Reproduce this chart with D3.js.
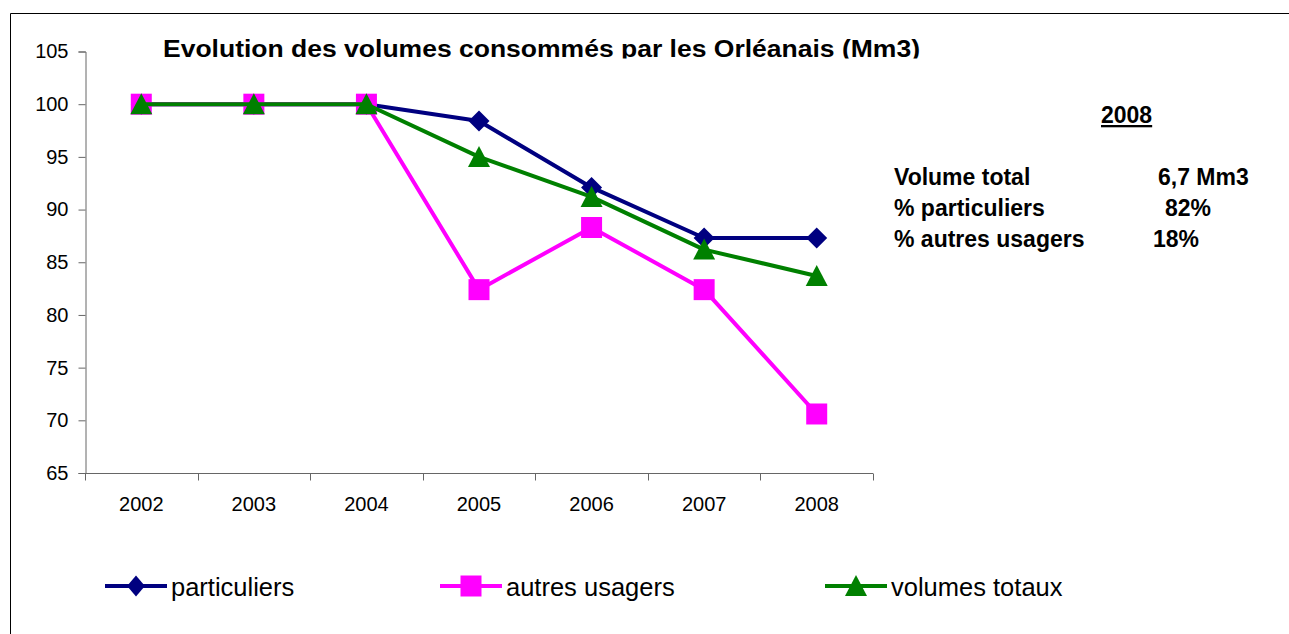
<!DOCTYPE html>
<html>
<head>
<meta charset="utf-8">
<script src="https://cdn.jsdelivr.net/npm/d3@7"></script>
<style>
  body { margin: 0; background: #fff; }
  svg { display: block; font-family: Arial, "Liberation Sans", sans-serif; }
</style>
</head>
<body>
<div id="chart"></div>
<script>
// donnees
const annees = ["2002", "2003", "2004", "2005", "2006", "2007", "2008"];
const particuliers = [100, 100, 100, 98.4, 92.1, 87.3, 87.3];
const autresUsagers = [100, 100, 100, 82.4, 88.3, 82.4, 70.6];
const volumesTotaux = [100, 100, 100, 95.0, 91.2, 86.2, 83.7];
const yTicks = [65, 70, 75, 80, 85, 90, 95, 100, 105];
const titre = "Evolution des volumes consommés par les Orléanais (Mm3)";
const encadreTitre = "2008";
const encadreLignes = [
  ["Volume total", "6,7 Mm3"],
  ["% particuliers", "82%"],
  ["% autres usagers", "18%"]
];

const width = 1289, height = 634;
const margin = {top: 51.5, bottom: 161, left: 85, right: 416};

// formes des marqueurs (losange, carre, triangle)
const losange = {draw(ctx, s) { ctx.moveTo(0, -s); ctx.lineTo(s, 0); ctx.lineTo(0, s); ctx.lineTo(-s, 0); ctx.closePath(); }};
const losangeLeg = {draw(ctx, s) { ctx.moveTo(0, -s); ctx.lineTo(s * 0.85, 0); ctx.lineTo(0, s); ctx.lineTo(-s * 0.85, 0); ctx.closePath(); }};
const carre = {draw(ctx, s) { ctx.rect(-s, -s, 2 * s, 2 * s); }};
const triangle = {draw(ctx, s) { ctx.moveTo(0, -s); ctx.lineTo(s, s - 1); ctx.lineTo(-s, s - 1); ctx.closePath(); }};

const series = [
  {name: "particuliers", values: particuliers, color: "#000080", symbol: losange, leg: losangeLeg, size: 10.5},
  {name: "autres usagers", values: autresUsagers, color: "#ff00ff", symbol: carre, leg: carre, size: 10.5},
  {name: "volumes totaux", values: volumesTotaux, color: "#008000", symbol: triangle, leg: triangle, size: 11}
];

const svg = d3.select("#chart").append("svg")
  .attr("width", width)
  .attr("height", height);

// cadre
svg.append("path")
  .attr("d", "M10.5,634 L10.5,13.5 L1289,13.5")
  .attr("fill", "none")
  .attr("stroke", "#000")
  .attr("stroke-width", 1);

const x = d3.scaleBand()
  .domain(annees)
  .range([margin.left, width - margin.right])
  .padding(0);

const y = d3.scaleLinear()
  .domain([65, 105])
  .range([height - margin.bottom, margin.top]);

const cx = d => x(d) + x.bandwidth() / 2;

// axe y
const yAxis = svg.append("g")
  .attr("transform", `translate(${margin.left + 0.5},0)`)
  .call(d3.axisLeft(y).tickValues(yTicks).tickSize(7).tickPadding(10));
yAxis.select(".domain").attr("stroke", "#666");
yAxis.selectAll(".tick line").attr("stroke", "#666");
yAxis.selectAll("text").attr("font-size", 20).attr("fill", "#000")
  .attr("font-family", "Arial, 'Liberation Sans', sans-serif");

// axe x
const x0 = height - margin.bottom;
const xAxis = svg.append("g")
  .attr("transform", `translate(0,${x0 + 0.5})`)
  .call(d3.axisBottom(x).tickSize(0).tickPadding(23));
xAxis.select(".domain").attr("stroke", "#666").attr("d", `M${margin.left},0H${width - margin.right}`);
xAxis.selectAll("text").attr("font-size", 20).attr("fill", "#000")
  .attr("font-family", "Arial, 'Liberation Sans', sans-serif");
const bords = annees.map(d => x(d)).concat([x.range()[1]]);
xAxis.selectAll(".bord").data(bords).join("line")
  .attr("x1", d => Math.round(d) + 0.5).attr("x2", d => Math.round(d) + 0.5)
  .attr("y1", 0).attr("y2", 7)
  .attr("stroke", "#666");

// series
const line = d3.line().x((d, i) => cx(annees[i])).y(d => y(d));
series.forEach(s => {
  svg.append("path")
    .datum(s.values)
    .attr("fill", "none")
    .attr("stroke", s.color)
    .attr("stroke-width", 4)
    .attr("stroke-linejoin", "round")
    .attr("d", line);
  svg.append("g").selectAll("path")
    .data(s.values)
    .join("path")
    .attr("transform", (d, i) => `translate(${cx(annees[i])},${y(d)})`)
    .attr("d", d3.symbol(s.symbol, s.size))
    .attr("fill", s.color);
});

// titre (coupe en bas comme dans l'original)
svg.append("clipPath").attr("id", "clipTitre")
  .append("rect").attr("x", 0).attr("y", 20).attr("width", width).attr("height", 38.5);
svg.append("text")
  .attr("clip-path", "url(#clipTitre)")
  .attr("x", 163).attr("y", 57)
  .attr("font-size", 23.5).attr("font-weight", "bold")
  .attr("textLength", 757).attr("lengthAdjust", "spacingAndGlyphs")
  .text(titre);

// encadre 2008
svg.append("text")
  .attr("x", 1101).attr("y", 123)
  .attr("font-size", 23).attr("font-weight", "bold")
  .attr("text-decoration", "underline")
  .text(encadreTitre);
const valX = [1158, 1165, 1153];
encadreLignes.forEach((l, i) => {
  svg.append("text").attr("x", 894).attr("y", 185 + i * 31)
    .attr("font-size", 23).attr("font-weight", "bold").text(l[0]);
  svg.append("text").attr("x", valX[i]).attr("y", 185 + i * 31)
    .attr("font-size", 23).attr("font-weight", "bold").text(l[1]);
});

// legende
const legX = [105, 440, 825];
const leg = svg.append("g");
series.forEach((s, i) => {
  const g = leg.append("g").attr("transform", `translate(${legX[i]},586)`);
  g.append("line").attr("x1", 0).attr("x2", 62).attr("y1", 0).attr("y2", 0)
    .attr("stroke", s.color).attr("stroke-width", 4);
  g.append("path")
    .attr("transform", "translate(31,0)")
    .attr("d", d3.symbol(s.leg, s.size))
    .attr("fill", s.color);
  g.append("text").attr("x", 66).attr("y", 10)
    .attr("font-size", 25.5).text(s.name);
});
</script>
</body>
</html>
